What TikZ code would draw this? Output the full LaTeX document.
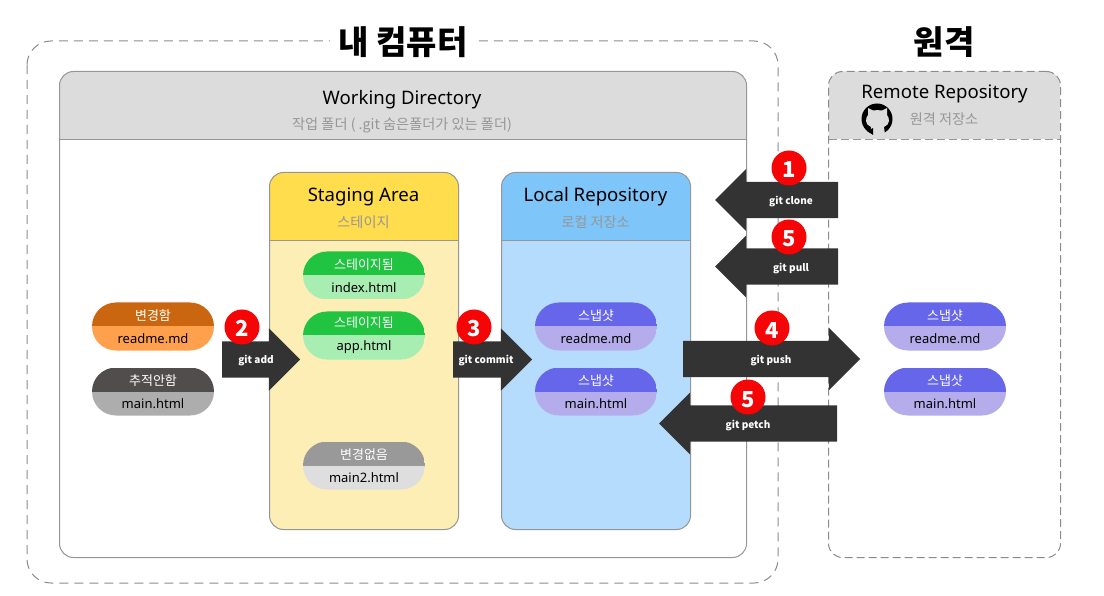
\documentclass[tikz,border=0pt]{standalone}
\usepackage{fontspec}
\setmainfont{Noto Sans}
\newfontfamily\kofont{Noto Sans CJK KR}
\usetikzlibrary{shapes.misc, shapes.arrows}
\definecolor{edgegray}{HTML}{969696}
\definecolor{dashgray}{HTML}{8C8C8C}
\definecolor{headgray}{HTML}{DCDCDC}
\definecolor{subgray}{HTML}{969696}
\definecolor{arrowdark}{HTML}{333333}
\definecolor{badgered}{HTML}{F50505}
\definecolor{changetop}{HTML}{C9660F}
\definecolor{changebot}{HTML}{FFA04D}
\definecolor{untracktop}{HTML}{524D4D}
\definecolor{untrackbot}{HTML}{ADADAD}
\definecolor{stagedtop}{HTML}{21C440}
\definecolor{stagedbot}{HTML}{A8EDB2}
\definecolor{sametop}{HTML}{999999}
\definecolor{samebot}{HTML}{DEDEDE}
\definecolor{snaptop}{HTML}{6666EB}
\definecolor{snapbot}{HTML}{B5ADEB}
\definecolor{stagehead}{HTML}{FFDD4D}
\definecolor{stagebody}{HTML}{FCEEB5}
\definecolor{localhead}{HTML}{7EC5FA}
\definecolor{localbody}{HTML}{B5DCFD}
\tikzset{
    panel/.style n args={3}{anchor=north west, inner sep=0pt, line width=1pt, rounded corners=14pt, fill=#3, path picture={
        \fill[#1, sharp corners] (path picture bounding box.north west) rectangle ([yshift=-#2]path picture bounding box.north east);
        \draw[edgegray, line width=1pt, sharp corners] ([yshift=-#2]path picture bounding box.north west) -- ([yshift=-#2]path picture bounding box.north east);}},
    pill/.style 2 args={rounded rectangle, inner sep=0pt, minimum width=122pt, minimum height=48pt, align=center,
        font=\fontsize{13}{23}\selectfont, path picture={
        \fill[#1] (path picture bounding box.north west) rectangle (path picture bounding box.east);
        \fill[#2] (path picture bounding box.west) rectangle (path picture bounding box.south east);}},
    blockarrow/.style={single arrow, fill=arrowdark, inner xsep=0pt, inner ysep=18pt, outer sep=0pt, anchor=tip,
        single arrow head extend=13pt, single arrow tip angle=90, single arrow head indent=0pt},
    arrowtext/.style={text=white, font=\kofont\fontsize{10}{11}\selectfont\bfseries},
    badge/.style={circle, fill=badgered, text=white, inner sep=0pt, minimum size=35pt, text height=20pt, text depth=0pt, font=\kofont\fontsize{22}{24}\selectfont\bfseries},
    bigtitle/.style={font=\kofont\fontsize{33}{36}\selectfont\bfseries},
    panelname/.style={font=\fontsize{18.6}{22}\selectfont},
    subname/.style={text=subgray, font=\kofont\fontsize{14.2}{16}\selectfont}
}
\begin{document}
\begin{tikzpicture}[x=1pt, y=-1pt]
    \useasboundingbox (0,0) rectangle (1104,596);
    % my computer
    \draw[dashgray, line width=1pt, dash pattern=on 9pt off 6pt, rounded corners=24pt] (27,41) rectangle (778,583);
    \node (mypc) [bigtitle, fill=white, inner xsep=9pt, inner ysep=0pt] at (403,42) {내 컴퓨터};
    \node (origin) [bigtitle] at (944,42) {원격};
    % working directory
    \node (working) [panel={headgray}{68pt}{white}, draw=edgegray, minimum width=687pt, minimum height=486pt] at (59,71) {};
    \node (workname) [panelname] at (402,100) {Working Directory};
    \node (worksub) [subname] at (402,125) {작업 폴더 ( .git 숨은폴더가 있는 폴더)};
    % remote
    \node (remote) [panel={headgray}{68pt}{white}, draw=dashgray, dash pattern=on 8pt off 4pt, minimum width=232pt, minimum height=486pt] at (828,71) {};
    \node (remotename) [panelname] at (944.5,94) {Remote Repository};
    \node (remotesub) [subname] at (944,119.5) {원격 저장소};
    \fill (877,119) circle (15.5pt);
    \fill[headgray] (870,135) -- (871,127) .. controls (865,125) and (865,118) .. (868,115) -- (868,108) -- (873,110.5) .. controls (876,110) and (879,110) .. (882,110.5) -- (887,108) -- (887,115) .. controls (890,118) and (890,125) .. (884,127) -- (885,135) -- cycle;
    \fill (873,128) -- (873,135) -- (867,131) -- cycle;
    % staging area
    \node (staging) [panel={stagehead}{68pt}{stagebody}, draw=edgegray, minimum width=189pt, minimum height=357pt] at (269,172) {};
    \node (stagingname) [panelname] at (363.5,196.5) {Staging Area};
    \node (stagingsub) [subname] at (363.5,222) {스테이지};
    % local repository
    \node (local) [panel={localhead}{68pt}{localbody}, draw=edgegray, minimum width=189pt, minimum height=357pt] at (501,172) {};
    \node (localname) [panelname] at (595.5,196.5) {Local Repository};
    \node (localsub) [subname] at (595.5,222) {로컬 저장소};
    % files
    \node (changed) [pill={changetop}{changebot}] at (153,326.5) {{\kofont\color{white}변경함}\\readme.md};
    \node (untracked) [pill={untracktop}{untrackbot}] at (153,391.5) {{\kofont\color{white}추적안함}\\main.html};
    \node (stagedindex) [pill={stagedtop}{stagedbot}] at (364,275.5) {{\kofont\color{white}스테이지됨}\\index.html};
    \node (stagedapp) [pill={stagedtop}{stagedbot}] at (364,335.5) {{\kofont\color{white}스테이지됨}\\app.html};
    \node (unchanged) [pill={sametop}{samebot}] at (364,465.5) {{\kofont\color{white}변경없음}\\main2.html};
    \node (snapreadme) [pill={snaptop}{snapbot}] at (596,326.5) {{\kofont\color{white}스냅샷}\\readme.md};
    \node (snapmain) [pill={snaptop}{snapbot}] at (596,391.5) {{\kofont\color{white}스냅샷}\\main.html};
    \node (remotereadme) [pill={snaptop}{snapbot}] at (945,326.5) {{\kofont\color{white}스냅샷}\\readme.md};
    \node (remotemain) [pill={snaptop}{snapbot}] at (945,391.5) {{\kofont\color{white}스냅샷}\\main.html};
    % commands
    \node (add) [blockarrow, minimum height=78pt] at (300,359.5) {};
    \node (addtext) [arrowtext] at (256,361) {git add};
    \node (commit) [blockarrow, minimum height=79pt] at (532,359.5) {};
    \node (committext) [arrowtext] at (486,361) {git commit};
    \node (clone) [blockarrow, shape border rotate=180, minimum height=123pt] at (715,200) {};
    \node (clonetext) [arrowtext] at (791,201.5) {git clone};
    \node (pull) [blockarrow, shape border rotate=180, minimum height=123pt] at (715,266.5) {};
    \node (pulltext) [arrowtext] at (791,269) {git pull};
    \node (push) [blockarrow, minimum height=177pt] at (860,359) {};
    \node (pushtext) [arrowtext] at (771,361) {git push};
    \node (petch) [blockarrow, shape border rotate=180, minimum height=178pt] at (659,423.5) {};
    \node (petchtext) [arrowtext] at (748,425.5) {git petch};
    % steps
    \node (stepone) [badge] at (789,168) {1};
    \node (steptwo) [badge] at (242,327) {2};
    \node (stepthree) [badge] at (474,327) {3};
    \node (stepfour) [badge] at (772,328) {4};
    \node (steppull) [badge] at (789,237) {5};
    \node (steppetch) [badge] at (748,397) {5};
\end{tikzpicture}
\end{document}
